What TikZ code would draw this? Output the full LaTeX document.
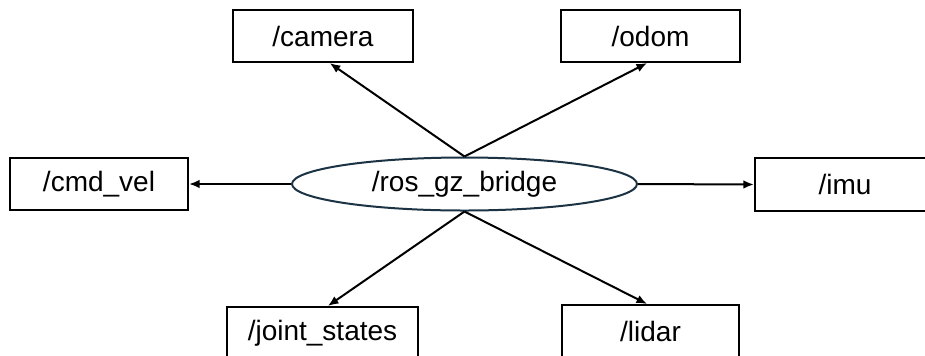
\documentclass[tikz,border=0pt]{standalone}
\usepackage{fontspec}
\setmainfont{Liberation Sans}
\usetikzlibrary{arrows.meta,calc,shapes.geometric}
\definecolor{rim}{HTML}{1C3344}
\begin{document}
\begin{tikzpicture}[x=0.75pt,y=-0.75pt,
  every node/.style={font=\fontsize{21}{25}\selectfont},
  topic/.style={draw=black,line width=1.5pt,fill=white,rectangle,
    inner sep=0pt,minimum width=#1,minimum height=39pt},
  hub/.style={draw=rim,line width=1.5pt,fill=white,ellipse,
    inner sep=0pt,minimum width=258.75pt,minimum height=39.75pt},
  link/.style={line width=1.5pt,-{Latex[length=8pt,width=6.5pt]}}]
  \useasboundingbox (0,0) rectangle (925,355);
  \clip (0,0) rectangle (925,355);

  % central bridge node
  \node[hub] (bridge) at (464.5,184) {/ros\_gz\_bridge};

  % topics around it
  \node[topic=135pt]    (camera) at (323,36)    {/camera};
  \node[topic=134.25pt] (odom)   at (650.5,36)  {/odom};
  \node[topic=133.5pt]  (cmd)    at (99,184)    {/cmd\_vel};
  \node[topic=135pt, minimum height=39.75pt] (imu) at (845,184.5) {/imu};
  \node[topic=143.25pt] (joint)  at (322.5,333) {/joint\_states};
  \node[topic=132.75pt] (lidar)  at (650.5,331) {/lidar};

  % connectors
  \draw[link] (bridge.north) -- ([xshift=5pt]camera.south);
  \draw[link] (bridge.north) -- ([xshift=-2.5pt]odom.south);
  \draw[link] (bridge.west)  -- (cmd.east);
  \draw[link] (bridge.east)  -- (imu.west);
  \draw[link] (bridge.south) -- ([xshift=4pt]joint.north);
  \draw[link] (bridge.south) -- ([xshift=-2.5pt]lidar.north);
\end{tikzpicture}
\end{document}
